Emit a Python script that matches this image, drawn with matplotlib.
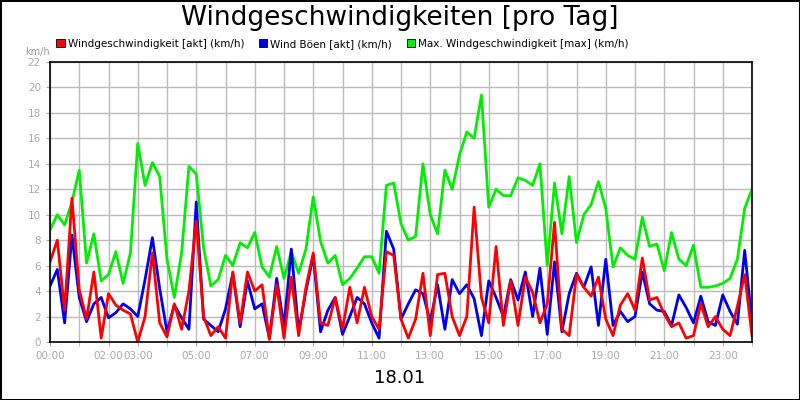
import matplotlib.pyplot as plt
import numpy as np

# 15-minute samples, 00:00 .. 24:00
wind_max = [8.8, 10.0, 9.2, 11.0, 13.5, 6.2, 8.5, 4.8, 5.3, 7.1, 4.6, 7.0, 15.6, 12.3, 14.1, 13.0,
            6.5, 3.5, 7.0, 13.8, 13.2, 7.4, 4.4, 4.9, 6.8,
            6.0, 7.8, 7.4, 8.6, 5.9, 5.1, 7.5, 5.0, 7.1, 5.4, 7.3, 11.4, 7.9, 6.2, 6.8, 4.5,
            5.0, 5.8, 6.7, 6.7, 5.4, 12.3, 12.5, 9.3,
            8.0, 8.3, 14.0, 10.0, 8.5, 13.5, 12.0, 14.7, 16.5, 16.0, 19.4, 10.6, 12.0, 11.5, 11.5, 12.9,
            12.7, 12.3, 14.0, 6.0, 12.5, 8.5, 13.0, 7.8,
            10.0, 10.8, 12.6, 10.5, 5.9, 7.4, 6.8, 6.5, 9.8, 7.5, 7.7, 5.6, 8.6, 6.5, 6.0, 7.6,
            4.3, 4.3, 4.4, 4.6, 5.0, 6.5, 10.5, 12.0]
wind_boen = [4.4, 5.7, 1.5, 8.4, 3.5, 1.6, 3.0, 3.5, 1.9, 2.3, 3.0, 2.6, 2.0, 4.9, 8.2, 4.2,
             0.8, 2.9, 1.9, 1.0, 11.0, 1.8, 1.3, 0.8, 2.6,
             5.4, 1.2, 4.8, 2.6, 3.0, 0.3, 5.0, 1.2, 7.3, 0.8, 4.0, 6.8, 0.8, 2.5, 3.5, 0.6,
             2.0, 3.5, 3.0, 1.5, 0.3, 8.7, 7.3, 1.8,
             3.0, 4.1, 3.8, 1.6, 4.5, 1.0, 4.9, 3.8, 4.5, 3.4, 0.5, 4.8, 3.5, 2.0, 4.9, 3.3,
             5.5, 2.0, 5.8, 0.6, 6.3, 0.8, 3.8, 5.4,
             4.3, 5.9, 1.3, 6.5, 1.3, 2.4, 1.6, 2.0, 5.5, 3.0, 2.5, 2.4, 1.3, 3.7, 2.7, 1.5,
             3.6, 1.6, 1.3, 3.7, 2.4, 1.4, 7.2, 1.5]
wind_akt = [6.3, 8.0, 2.5, 11.3, 4.1, 1.8, 5.5, 0.3, 3.8, 2.9, 2.5, 2.2, 0.0, 2.0, 7.0, 1.5,
            0.4, 3.0, 1.0, 4.0, 9.5, 2.0, 0.5, 1.2, 0.3,
            5.5, 1.5, 5.5, 4.0, 4.5, 0.2, 4.5, 0.3, 5.1, 0.5, 4.3, 7.0, 1.5, 1.3, 3.5, 1.0,
            4.3, 1.5, 4.3, 2.0, 1.0, 7.1, 6.8, 1.8,
            0.3, 1.8, 5.4, 0.5, 5.3, 5.4, 2.0, 0.5, 2.0, 10.6, 3.5, 1.5, 7.5, 1.3, 4.8, 1.3,
            5.1, 3.9, 1.5, 3.0, 9.4, 1.0, 0.5, 5.3,
            4.3, 3.6, 5.1, 1.8, 0.5, 2.9, 3.8, 2.5, 6.6, 3.3, 3.5, 2.2, 1.2, 1.5, 0.3, 0.5,
            3.0, 1.2, 2.0, 1.0, 0.5, 2.8, 5.3, 0.5]
tick_hours = [0, 2, 3, 5, 7, 9, 11, 13, 15, 17, 19, 21, 23]
tick_labels = ['%02d:00' % h for h in tick_hours]

hours = np.arange(len(wind_max)) * 0.25

fig = plt.figure(figsize=(8, 4), dpi=100)
fig.patch.set_edgecolor('black')
fig.patch.set_linewidth(2)
ax = fig.add_axes([0.0625, 0.145, 0.8775, 0.7])

ax.plot(hours, wind_max, color='#00ee00', lw=2, label='Max. Windgeschwindigkeit [max] (km/h)')
ax.plot(hours, wind_boen, color='#0000ee', lw=2, label='Wind Böen [akt] (km/h)')
ax.plot(hours, wind_akt, color='#ff0000', lw=2, label='Windgeschwindigkeit [akt] (km/h)')

ax.set_xlim(0, 24)
ax.set_ylim(0, 22)
ax.set_yticks(range(0, 23, 2))
ax.set_xticks(tick_hours)
ax.set_xticklabels(tick_labels)
ax.set_xticks(range(25), minor=True)
ax.grid(True, which='both', color='#bbbbbb', lw=1)
ax.set_axisbelow(True)
ax.tick_params(which='both', length=3, colors='#aaaaaa', labelsize=7.5, labelcolor='#aaaaaa')
for s in ax.spines.values():
    s.set_linewidth(1.2)

fig.text(0.5, 0.955, 'Windgeschwindigkeiten [pro Tag]', ha='center', va='center', fontsize=19)
fig.text(0.032, 0.87, 'km/h', fontsize=7, color='#999999', va='center')
fig.text(0.5, 0.055, '18.01', ha='center', va='center', fontsize=13)

h, l = ax.get_legend_handles_labels()
order = [2, 1, 0]
leg = fig.legend([plt.Rectangle((0, 0), 1, 1, fc=h[i].get_color(), ec='black', lw=0.6) for i in order],
                 [l[i] for i in order], loc='center left', bbox_to_anchor=(0.065, 0.89), ncol=3,
                 frameon=False, fontsize=7.5, handlelength=0.8, handleheight=0.8,
                 handletextpad=0.3, columnspacing=1.4, borderaxespad=0)

fig.savefig('out.png', dpi=100, edgecolor=fig.get_edgecolor())
